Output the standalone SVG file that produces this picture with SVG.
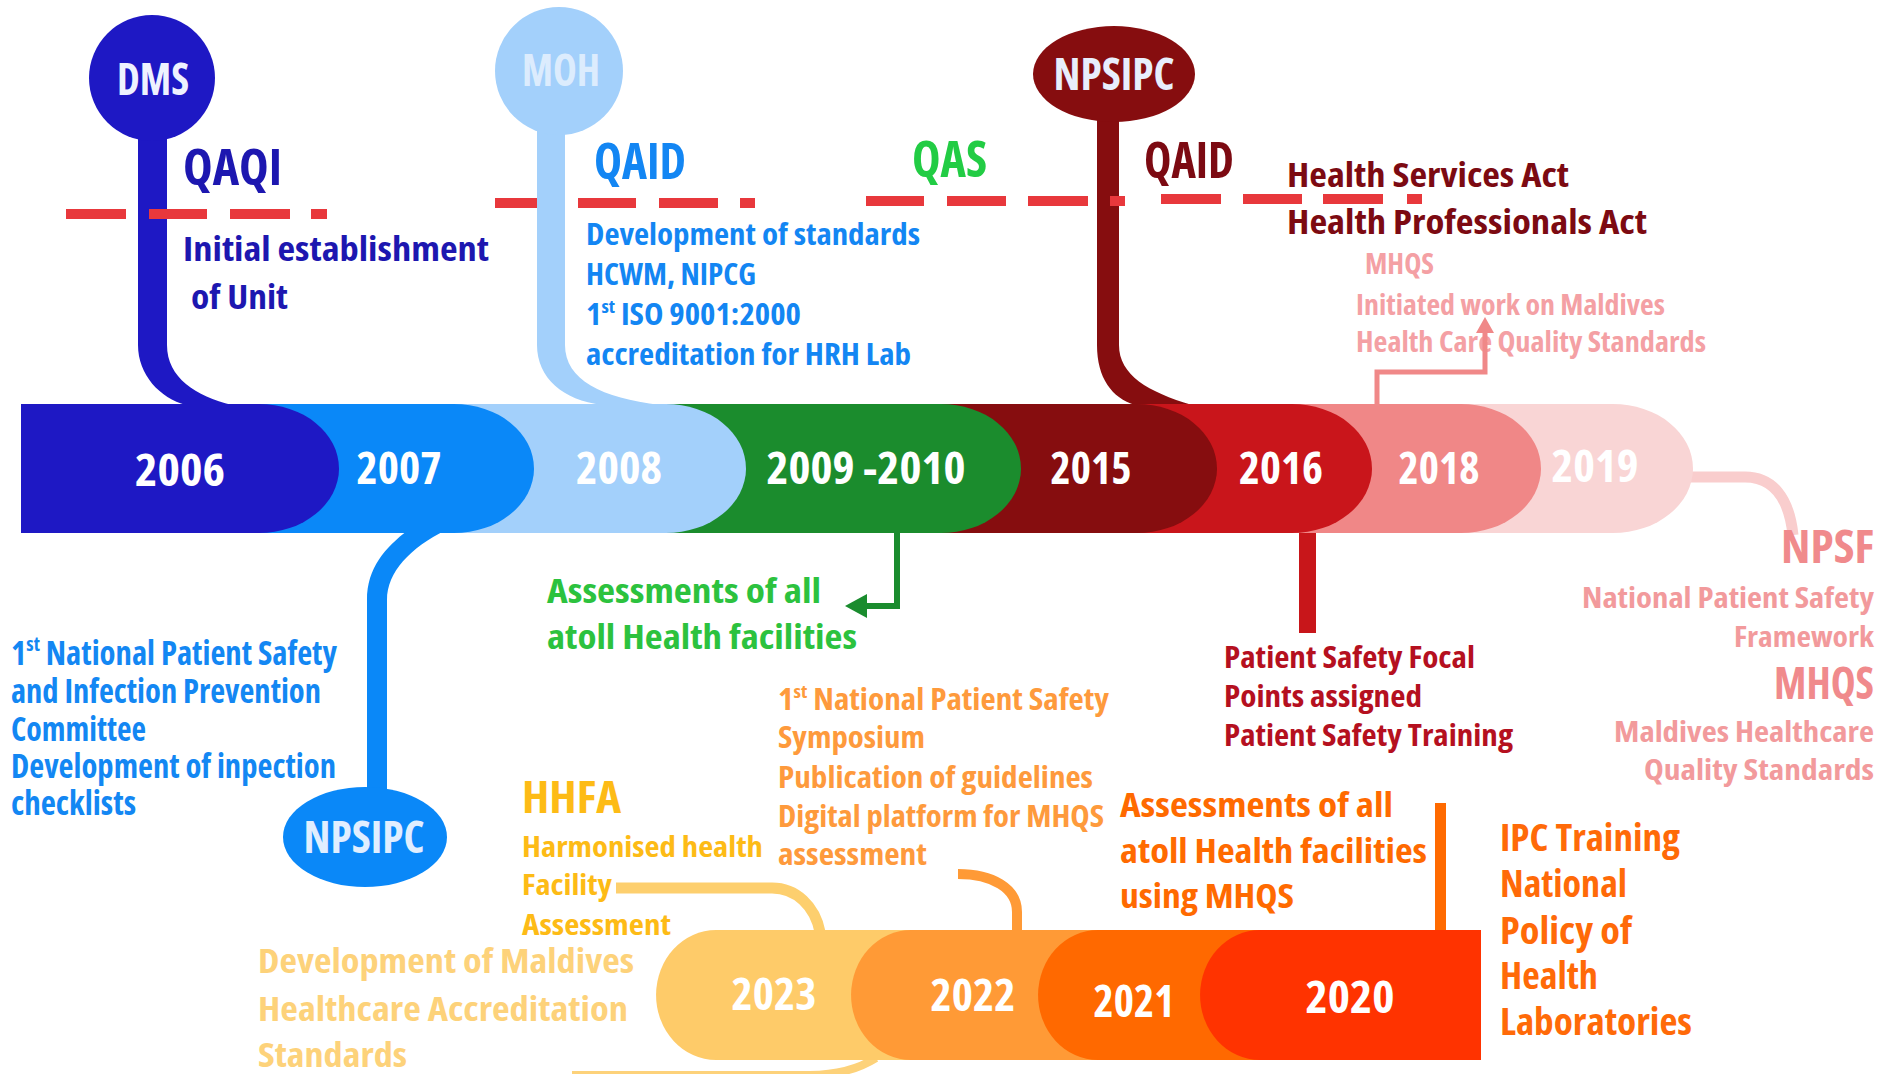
<svg xmlns="http://www.w3.org/2000/svg" width="1879" height="1074" viewBox="0 0 1879 1074">
  <style>
    text { font-family: "Open Sans", "Noto Sans", "Liberation Sans", sans-serif; font-weight: 700; font-stretch: condensed; }
    .yr { fill: #ffffff; font-size: 45px; text-anchor: middle; }
    .lbl { font-size: 44px; text-anchor: middle; }
    .head { font-size: 50px; }
    .b35 { font-size: 34px; }
    .b32 { font-size: 31px; }
    .b30 { font-size: 29px; }
    .dash { stroke: #e8383c; stroke-width: 10; fill: none; }
    .sup { font-size: 60%; }
  </style>

  <!-- stems, arrows and links between the timeline bars and their notes -->
  <g id="connectors">
    <!-- DMS stem -->
    <path d="M138 130 V345 C138 375 160 398 186 405 H232 C196 396 167 378 167 345 V130 Z" fill="#1e18c4"/>
    <!-- MOH stem -->
    <path d="M537 120 V345 C537 378 563 400 602 405 H660 C602 398 565 380 565 345 V120 Z" fill="#a3d0fb"/>
    <!-- NPSIPC (2015) stem -->
    <path d="M1097 110 V345 C1097 378 1112 398 1135 405 H1192 C1148 392 1119 375 1119 345 V110 Z" fill="#860d0f"/>
    <!-- NPSIPC (2007) stem -->
    <path d="M408 530 C385 548 367 568 367 600 V800 H387 V600 C387 572 410 548 446 530 Z" fill="#0a88f8"/>
    <!-- 2009-2010 arrow -->
    <path d="M897 530 V606 H864" fill="none" stroke="#1a8c2e" stroke-width="6"/>
    <polygon points="845,606 867,594 867,618" fill="#1a8c2e"/>
    <!-- 2016 stem -->
    <rect x="1299" y="530" width="17" height="103" fill="#c8161a"/>
    <!-- 2019 link -->
    <path d="M1688 477 H1745 C1772 477 1789 497 1793 535" fill="none" stroke="#f9cdcd" stroke-width="11"/>
    <!-- HHFA link -->
    <path d="M616 888 H772 C796 888 815 906 820 932" fill="none" stroke="#fdcf6e" stroke-width="11"/>
    <!-- 2022 link -->
    <path d="M958 874 C992 874 1017 888 1017 912 V932" fill="none" stroke="#ff9a36" stroke-width="10"/>
    <!-- 2020 stem -->
    <rect x="1435" y="803" width="11" height="128" fill="#ff6a00"/>
    <!-- 2023 link below -->
    <path d="M572 1075 H810 C840 1075 860 1068 876 1058" fill="none" stroke="#fdd27a" stroke-width="8"/>
  </g>

  <!-- upper timeline bar, drawn right to left so each year overlaps the next -->
  <g id="bar-2019"><path d="M21 404 H1613 A80 64.5 0 0 1 1613 533 H21 Z" fill="#f9d5d5"/></g>
  <g id="bar-2018"><path d="M21 404 H1461 A80 64.5 0 0 1 1461 533 H21 Z" fill="#f08787"/></g>
  <g id="bar-2016"><path d="M21 404 H1292 A80 64.5 0 0 1 1292 533 H21 Z" fill="#c9151b"/></g>
  <g id="bar-2015"><path d="M21 404 H1137 A80 64.5 0 0 1 1137 533 H21 Z" fill="#860d0f"/></g>
  <g id="bar-2009"><path d="M21 404 H941 A80 64.5 0 0 1 941 533 H21 Z" fill="#1b8c2d"/></g>
  <g id="bar-2008"><path d="M21 404 H666 A80 64.5 0 0 1 666 533 H21 Z" fill="#a3d0fb"/></g>
  <g id="bar-2007"><path d="M21 404 H454 A80 64.5 0 0 1 454 533 H21 Z" fill="#0a88f8"/></g>
  <g id="bar-2006"><path d="M21 404 H259 A80 64.5 0 0 1 259 533 H21 Z" fill="#1e18c4"/></g>

  <g id="years-upper">
    <text class="yr" x="180" y="486" textLength="90" lengthAdjust="spacingAndGlyphs">2006</text>
    <text class="yr" x="399" y="484" textLength="85" lengthAdjust="spacingAndGlyphs">2007</text>
    <text class="yr" x="619" y="484" textLength="86" lengthAdjust="spacingAndGlyphs">2008</text>
    <text class="yr" x="866" y="484" textLength="199" lengthAdjust="spacingAndGlyphs">2009 -2010</text>
    <text class="yr" x="1091" y="484" textLength="81" lengthAdjust="spacingAndGlyphs">2015</text>
    <text class="yr" x="1281" y="484" textLength="84" lengthAdjust="spacingAndGlyphs">2016</text>
    <text class="yr" x="1439" y="484" textLength="81" lengthAdjust="spacingAndGlyphs">2018</text>
    <text class="yr" x="1595" y="482" textLength="87" lengthAdjust="spacingAndGlyphs">2019</text>
  </g>

  <!-- lower timeline bar, drawn left to right so each year overlaps the previous -->
  <g id="bar-2023"><path d="M716 930 H1481 V1060 H716 A60 65 0 0 1 716 930 Z" fill="#fecb69"/></g>
  <g id="bar-2022"><path d="M911 930 H1481 V1060 H911 A60 65 0 0 1 911 930 Z" fill="#ff9a36"/></g>
  <g id="bar-2021"><path d="M1098 930 H1481 V1060 H1098 A60 65 0 0 1 1098 930 Z" fill="#ff6900"/></g>
  <g id="bar-2020"><path d="M1260 930 H1481 V1060 H1260 A60 65 0 0 1 1260 930 Z" fill="#ff3300"/></g>

  <g id="years-lower">
    <text class="yr" x="774" y="1010" textLength="85" lengthAdjust="spacingAndGlyphs">2023</text>
    <text class="yr" x="973" y="1011" textLength="85" lengthAdjust="spacingAndGlyphs">2022</text>
    <text class="yr" x="1134" y="1017" textLength="81" lengthAdjust="spacingAndGlyphs">2021</text>
    <text class="yr" x="1350" y="1013" textLength="89" lengthAdjust="spacingAndGlyphs">2020</text>
  </g>

  <!-- red dashed divider -->
  <g id="divider">
    <path class="dash" d="M66 214 H126 M149 214 H207 M230 214 H290 M311 214 H327"/>
    <path class="dash" d="M495 203 H537 M578 203 H636 M659 203 H718 M740 203 H755"/>
    <path class="dash" d="M866 201 H924 M947 201 H1006 M1028 201 H1088 M1110 201 H1125"/>
    <path class="dash" d="M1161 199 H1221 M1243 199 H1302 M1323 199 H1383 M1407 199 H1422"/>
  </g>

  <!-- organisation badges -->
  <g id="node-dms">
    <circle cx="152" cy="78" r="63" fill="#1e18c4"/>
    <text class="lbl" x="153" y="95" fill="#eef2ff" textLength="72" lengthAdjust="spacingAndGlyphs">DMS</text>
  </g>
  <g id="node-moh">
    <circle cx="559" cy="71" r="64" fill="#a3d0fb"/>
    <text class="lbl" x="561" y="86" fill="#dcecfd" textLength="78" lengthAdjust="spacingAndGlyphs">MOH</text>
  </g>
  <g id="node-npsipc-2015">
    <ellipse cx="1114" cy="74" rx="81" ry="48" fill="#860d0f"/>
    <text class="lbl" x="1114" y="90" fill="#e8eefc" textLength="121" lengthAdjust="spacingAndGlyphs">NPSIPC</text>
  </g>
  <g id="node-npsipc-2007">
    <ellipse cx="365" cy="837" rx="82" ry="50" fill="#0a88f8"/>
    <text class="lbl" x="364" y="853" fill="#e0eeff" textLength="121" lengthAdjust="spacingAndGlyphs">NPSIPC</text>
  </g>

  <!-- 2006 notes -->
  <g id="note-2006" fill="#1d17b0">
    <text class="head" x="183" y="185" font-size="54" textLength="99" lengthAdjust="spacingAndGlyphs">QAQI</text>
    <text class="b35" x="183" y="261" textLength="306" lengthAdjust="spacingAndGlyphs">Initial establishment</text>
    <text class="b35" x="191" y="309" textLength="97" lengthAdjust="spacingAndGlyphs">of Unit</text>
  </g>

  <!-- 2008 notes -->
  <g id="note-2008" fill="#1386f3">
    <text class="head" x="594" y="179" textLength="92" lengthAdjust="spacingAndGlyphs">QAID</text>
    <text class="b32" x="586" y="245" textLength="334" lengthAdjust="spacingAndGlyphs">Development of standards</text>
    <text class="b32" x="586" y="285" textLength="170" lengthAdjust="spacingAndGlyphs">HCWM, NIPCG</text>
    <text class="b32" x="586" y="325" textLength="215" lengthAdjust="spacingAndGlyphs">1<tspan class="sup" baseline-shift="super">st</tspan> ISO 9001:2000</text>
    <text class="b32" x="586" y="365" textLength="325" lengthAdjust="spacingAndGlyphs">accreditation for HRH Lab</text>
  </g>

  <!-- 2009-2010 notes -->
  <g id="note-2009">
    <text class="head" x="912" y="177" fill="#22cc44" textLength="75" lengthAdjust="spacingAndGlyphs">QAS</text>
    <text class="b35" x="547" y="603" fill="#2cc23e" textLength="274" lengthAdjust="spacingAndGlyphs">Assessments of all</text>
    <text class="b35" x="547" y="649" fill="#2cc23e" textLength="310" lengthAdjust="spacingAndGlyphs">atoll Health facilities</text>
  </g>

  <!-- 2015 notes -->
  <g id="note-2015" fill="#7c0a12">
    <text class="head" x="1144" y="178" textLength="90" lengthAdjust="spacingAndGlyphs">QAID</text>
    <text class="b35" x="1287" y="187" textLength="282" lengthAdjust="spacingAndGlyphs">Health Services Act</text>
    <text class="b35" x="1287" y="234" textLength="360" lengthAdjust="spacingAndGlyphs">Health Professionals Act</text>
  </g>

  <!-- 2018 notes -->
  <g id="note-2018" fill="#f4a0a4">
    <text class="b30" x="1365" y="274" textLength="69" lengthAdjust="spacingAndGlyphs">MHQS</text>
    <text class="b30" x="1356" y="315" textLength="309" lengthAdjust="spacingAndGlyphs">Initiated work on Maldives</text>
    <text class="b30" x="1356" y="352" textLength="350" lengthAdjust="spacingAndGlyphs">Health Care Quality Standards</text>
  </g>
  <g id="arrow-2018">
    <path d="M1377 406 V372 H1485 V330" fill="none" stroke="#f08888" stroke-width="5"/>
    <polygon points="1485,317 1476,333 1494,333" fill="#f08888"/>
  </g>

  <!-- 2007 notes -->
  <g id="note-2007" fill="#1387f3">
    <text class="b35" x="11" y="665" textLength="326" lengthAdjust="spacingAndGlyphs">1<tspan class="sup" baseline-shift="super">st</tspan> National Patient Safety</text>
    <text class="b35" x="11" y="703" textLength="310" lengthAdjust="spacingAndGlyphs">and Infection Prevention</text>
    <text class="b35" x="11" y="741" textLength="135" lengthAdjust="spacingAndGlyphs">Committee</text>
    <text class="b35" x="11" y="778" textLength="325" lengthAdjust="spacingAndGlyphs">Development of inpection</text>
    <text class="b35" x="11" y="815" textLength="125" lengthAdjust="spacingAndGlyphs">checklists</text>
  </g>

  <!-- 2016 notes -->
  <g id="note-2016" fill="#b5101f">
    <text class="b32" x="1224" y="668" font-size="32" textLength="251" lengthAdjust="spacingAndGlyphs">Patient Safety Focal</text>
    <text class="b32" x="1224" y="707" font-size="32" textLength="198" lengthAdjust="spacingAndGlyphs">Points assigned</text>
    <text class="b32" x="1224" y="746" font-size="32" textLength="289" lengthAdjust="spacingAndGlyphs">Patient Safety Training</text>
  </g>

  <!-- 2019 notes -->
  <g id="note-2019" text-anchor="end">
    <text x="1874" y="563" font-size="46" fill="#f08a8c" textLength="93" lengthAdjust="spacingAndGlyphs">NPSF</text>
    <text class="b30" x="1874" y="608" font-size="30" fill="#f29a9c" textLength="292" lengthAdjust="spacingAndGlyphs">National Patient Safety</text>
    <text class="b30" x="1874" y="647" font-size="30" fill="#f29a9c" textLength="140" lengthAdjust="spacingAndGlyphs">Framework</text>
    <text x="1874" y="699" font-size="44" fill="#f08a8c" textLength="100" lengthAdjust="spacingAndGlyphs">MHQS</text>
    <text class="b30" x="1874" y="742" font-size="30" fill="#f29a9c" textLength="260" lengthAdjust="spacingAndGlyphs">Maldives Healthcare</text>
    <text class="b30" x="1874" y="780" font-size="30" fill="#f29a9c" textLength="230" lengthAdjust="spacingAndGlyphs">Quality Standards</text>
  </g>

  <!-- 2023 notes -->
  <g id="note-2023-hhfa" fill="#fdbb16">
    <text x="522" y="813" font-size="45" textLength="99" lengthAdjust="spacingAndGlyphs">HHFA</text>
    <text class="b30" x="522" y="857" textLength="241" lengthAdjust="spacingAndGlyphs">Harmonised health</text>
    <text class="b30" x="522" y="895" textLength="90" lengthAdjust="spacingAndGlyphs">Facility</text>
    <text class="b30" x="522" y="935" textLength="149" lengthAdjust="spacingAndGlyphs">Assessment</text>
  </g>
  <g id="note-2023-standards" fill="#fdd27a">
    <text class="b35" x="258" y="973" font-size="35" textLength="376" lengthAdjust="spacingAndGlyphs">Development of Maldives</text>
    <text class="b35" x="258" y="1021" font-size="35" textLength="370" lengthAdjust="spacingAndGlyphs">Healthcare Accreditation</text>
    <text class="b35" x="258" y="1067" font-size="35" textLength="149" lengthAdjust="spacingAndGlyphs">Standards</text>
  </g>

  <!-- 2022 notes -->
  <g id="note-2022" fill="#fe9a3c">
    <text x="778" y="710" font-size="30" textLength="331" lengthAdjust="spacingAndGlyphs">1<tspan class="sup" baseline-shift="super">st</tspan> National Patient Safety</text>
    <text x="778" y="748" font-size="30" textLength="147" lengthAdjust="spacingAndGlyphs">Symposium</text>
    <text x="778" y="788" font-size="30" textLength="315" lengthAdjust="spacingAndGlyphs">Publication of guidelines</text>
    <text x="778" y="827" font-size="30" textLength="326" lengthAdjust="spacingAndGlyphs">Digital platform for MHQS</text>
    <text x="778" y="865" font-size="30" textLength="149" lengthAdjust="spacingAndGlyphs">assessment</text>
  </g>

  <!-- 2021 notes -->
  <g id="note-2021" fill="#ff6a00">
    <text class="b35" x="1120" y="817" textLength="273" lengthAdjust="spacingAndGlyphs">Assessments of all</text>
    <text class="b35" x="1120" y="863" textLength="307" lengthAdjust="spacingAndGlyphs">atoll Health facilities</text>
    <text class="b35" x="1120" y="908" textLength="174" lengthAdjust="spacingAndGlyphs">using MHQS</text>
  </g>

  <!-- 2020 notes -->
  <g id="note-2020" fill="#ff6a08">
    <text x="1500" y="851" font-size="37" textLength="180" lengthAdjust="spacingAndGlyphs">IPC Training</text>
    <text x="1500" y="897" font-size="37" textLength="127" lengthAdjust="spacingAndGlyphs">National</text>
    <text x="1500" y="944" font-size="37" textLength="132" lengthAdjust="spacingAndGlyphs">Policy of</text>
    <text x="1500" y="989" font-size="37" textLength="98" lengthAdjust="spacingAndGlyphs">Health</text>
    <text x="1500" y="1035" font-size="37" textLength="192" lengthAdjust="spacingAndGlyphs">Laboratories</text>
  </g>
</svg>
